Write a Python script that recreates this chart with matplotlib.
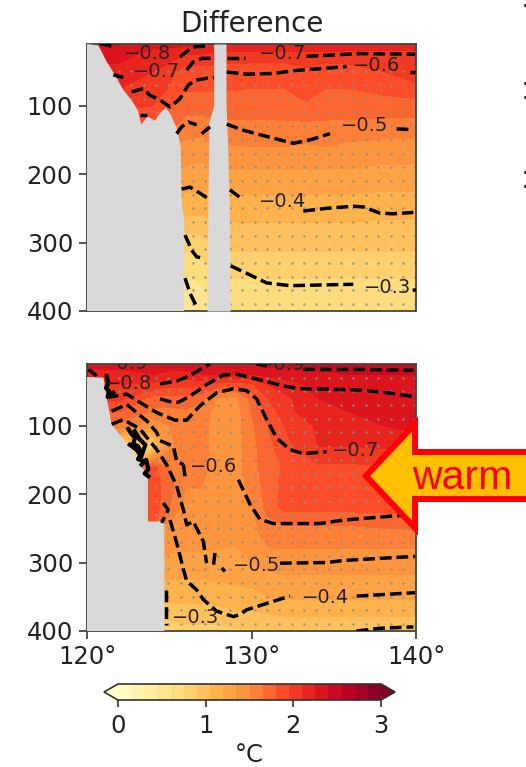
import numpy as np
import matplotlib
matplotlib.use("Agg")
import matplotlib.pyplot as plt
from matplotlib.patches import Polygon

# filled field, upper panel
top_lons = [120, 122, 124, 126, 127, 128, 130, 132, 133.3, 134.5, 136, 138, 140]
top_depths = [10, 25, 50, 75, 100, 130, 160, 200, 250, 300, 350, 400]
top_vals = [
    [2.45, 2.4, 2.3, 2.3, 2.25, 2.25, 2.25, 2.25, 2.25, 2.25, 2.2, 2.2, 2.2],
    [2.35, 2.3, 2.2, 2.1, 2.1, 2.05, 2.05, 2.05, 2.05, 2.05, 2.05, 2.05, 2.05],
    [2.2, 2.2, 2.1, 1.88, 1.88, 1.88, 1.85, 1.85, 1.92, 1.85, 1.88, 1.95, 2.0],
    [2.1, 2.1, 2.05, 1.82, 1.82, 1.82, 1.8, 1.8, 1.95, 1.8, 1.8, 1.85, 1.92],
    [2.0, 2.0, 1.95, 1.7, 1.7, 1.72, 1.72, 1.72, 1.75, 1.72, 1.72, 1.72, 1.72],
    [1.8, 1.8, 1.75, 1.6, 1.58, 1.62, 1.62, 1.62, 1.62, 1.62, 1.62, 1.6, 1.6],
    [1.5, 1.5, 1.45, 1.45, 1.42, 1.48, 1.5, 1.5, 1.48, 1.5, 1.46, 1.44, 1.44],
    [1.35, 1.35, 1.35, 1.3, 1.3, 1.32, 1.32, 1.32, 1.32, 1.32, 1.32, 1.3, 1.3],
    [1.15, 1.15, 1.15, 1.12, 1.1, 1.12, 1.12, 1.12, 1.12, 1.12, 1.12, 1.1, 1.1],
    [0.9, 0.9, 0.9, 0.8, 0.85, 0.95, 0.95, 0.95, 0.95, 0.95, 0.95, 0.95, 0.95],
    [0.65, 0.65, 0.65, 0.6, 0.62, 0.76, 0.76, 0.76, 0.76, 0.76, 0.76, 0.76, 0.76],
    [0.5, 0.5, 0.5, 0.45, 0.5, 0.6, 0.6, 0.6, 0.6, 0.6, 0.6, 0.6, 0.6],
]

# filled field, lower panel
bot_lons = [120, 122, 124, 125, 126, 127, 128, 129, 130, 131, 132, 134, 136, 138, 140]
bot_depths = [10, 25, 40, 60, 80, 100, 130, 160, 190, 220, 240, 260, 300, 350, 400]
bot_vals = [
    [2.3, 2.3, 2.35, 2.35, 2.35, 2.35, 2.4, 2.4, 2.4, 2.45, 2.45, 2.5, 2.5, 2.5, 2.5],
    [2.2, 2.2, 2.25, 2.2, 2.2, 2.25, 2.25, 2.25, 2.25, 2.3, 2.3, 2.35, 2.4, 2.4, 2.4],
    [2.1, 2.1, 2.05, 2.0, 2.0, 2.0, 1.88, 1.85, 1.92, 2.1, 2.2, 2.28, 2.32, 2.35, 2.35],
    [2.0, 2.0, 1.75, 1.75, 1.75, 1.68, 1.48, 1.45, 1.7, 1.95, 2.05, 2.25, 2.3, 2.35, 2.35],
    [1.8, 1.8, 1.6, 1.6, 1.62, 1.58, 1.42, 1.42, 1.65, 1.85, 2.05, 2.2, 2.25, 2.3, 2.35],
    [1.6, 1.6, 1.4, 1.5, 1.6, 1.55, 1.42, 1.42, 1.62, 1.8, 1.95, 2.12, 2.15, 2.25, 2.3],
    [1.0, 0.8, 0.8, 1.45, 1.6, 1.55, 1.42, 1.42, 1.6, 1.75, 1.9, 2.1, 2.1, 2.12, 2.15],
    [0.8, 0.8, 1.85, 1.65, 1.55, 1.55, 1.42, 1.42, 1.6, 1.72, 1.82, 1.92, 1.92, 1.95, 1.98],
    [1.9, 1.9, 1.9, 1.7, 1.5, 1.5, 1.42, 1.42, 1.55, 1.72, 1.85, 1.88, 1.88, 1.88, 1.88],
    [1.9, 1.9, 1.9, 1.65, 1.45, 1.45, 1.42, 1.42, 1.5, 1.7, 1.85, 1.85, 1.85, 1.85, 1.85],
    [1.9, 1.9, 1.88, 1.5, 1.45, 1.45, 1.42, 1.42, 1.45, 1.62, 1.68, 1.68, 1.68, 1.72, 1.75],
    [1.45, 1.45, 1.45, 1.45, 1.42, 1.42, 1.4, 1.38, 1.42, 1.58, 1.58, 1.58, 1.58, 1.58, 1.58],
    [1.35, 1.35, 1.35, 1.3, 1.3, 1.3, 1.3, 1.3, 1.35, 1.4, 1.42, 1.42, 1.42, 1.42, 1.42],
    [1.1, 1.1, 1.1, 1.1, 1.1, 1.1, 1.12, 1.15, 1.15, 1.2, 1.22, 1.22, 1.22, 1.22, 1.22],
    [0.85, 0.85, 0.85, 0.8, 0.85, 0.85, 0.85, 0.88, 0.88, 0.9, 0.92, 0.92, 0.92, 0.92, 0.92],
]

# land outlines (lon, depth)
top_land_lon = [120, 120.69, 121.2, 121.7, 122.2, 122.7, 123.1, 123.3, 123.67, 124.13, 124.44, 124.8, 125.15,
                125.45, 125.7, 125.75, 125.9, 125.9, 120]
top_land_depth = [10, 12, 36, 55, 77, 92, 107, 128, 116, 122, 111, 103, 116, 133, 160, 238, 267, 400, 400]
gap_depth = [10, 100, 125, 160, 250, 400]
gap_west = [127.7, 127.7, 127.4, 127.4, 127.35, 127.3]
gap_east = [128.45, 128.45, 128.5, 128.55, 128.65, 128.7]

bot_land_lon = [120, 121.0, 121.2, 121.5, 122.7, 123.7, 123.7, 124.7, 124.7, 120]
bot_land_depth = [29, 30, 60, 98, 135, 175, 240, 240, 400, 400]

# dashed contours of the upper panel (lon offset from 120, depth)
top_lines = [
    ([0.79, 1.6], [9, 14]),
    ([5.65, 6.16, 6.57, 7.27], [29, 19, 14, 13]),
    ([1.6, 2.21], [55, 59]),
    ([6.06, 6.46, 6.97, 7.72], [48, 36, 31, 31]),
    ([8.49, 9.6], [30, 30]),
    ([13.35, 16.6, 19.94], [28, 24, 25]),
    ([2.72, 3.42, 3.83, 4.44, 5.05, 5.65, 6.16, 6.57, 7.27, 7.72], [80, 75, 85, 92, 102, 90, 70, 63, 60, 59]),
    ([8.49, 9.71, 11.33, 12.54, 15.78], [51, 54, 53, 49, 43]),
    ([19.64, 19.94], [51, 51]),
    ([3.22, 3.67], [114, 114]),
    ([5.45, 5.75, 6.16, 6.67], [141, 131, 124, 128]),
    ([6.97, 7.48], [141, 131]),
    ([8.49, 9.5, 10.92, 12.54, 13.56, 14.77], [127, 136, 145, 155, 150, 141]),
    ([18.82, 19.74], [134, 135]),
    ([5.75, 6.26, 6.87, 7.38], [222, 219, 228, 236]),
    ([8.69, 9.4], [223, 236]),
    ([13.15, 14.57, 16.19, 16.8, 17.81, 18.62, 19.84], [254, 250, 247, 248, 257, 258, 256]),
    ([5.96, 6.36, 6.67, 7.11], [289, 311, 321, 323]),
    ([5.96, 6.26, 6.71], [352, 374, 396]),
    ([8.73, 9.71, 10.92, 12.34, 16.19], [334, 345, 359, 363, 361]),
    ([19.88, 19.92], [367, 372]),
]

# dashed contours of the lower panel
bot_lines = [
    ([0.08, 0.59], [18, 27]),
    ([4.44, 5.45, 6.26, 7.07, 7.48], [39, 35, 27, 15, 10]),
    ([10.31, 10.92], [10, 13]),
    ([13.15, 16.6, 19.84], [18, 18, 19]),
    ([4.44, 5.05, 5.55, 6.26, 7.27, 8.29, 9.1, 10.31, 12.14, 12.95, 16.6, 18.62, 19.94], [61, 65, 66, 57, 40, 26, 25, 32, 43, 46, 48, 53, 58]),
    ([1.2, 2.41, 3.22, 4.24, 5.35, 6.06, 6.87, 7.88, 8.9, 9.71, 10.31, 10.92, 11.53, 12.34, 13.15, 14.57],
     [59, 54, 66, 81, 92, 92, 71, 52, 46, 49, 61, 91, 118, 135, 141, 138]),
    ([1.5, 2.41, 3.63, 4.24, 4.44, 5.25, 5.45, 5.86], [79, 69, 93, 110, 122, 130, 152, 157]),
    ([5.86, 5.96], [157, 174]),
    ([9.2, 9.91, 10.52, 11.33, 14.16, 15.58, 18.62, 19.94], [179, 215, 237, 243, 243, 238, 232, 230]),
    ([1.5, 2.21, 3.22, 4.24, 4.84, 5.45, 5.86, 6.06, 6.46, 7.07, 7.27], [98, 91, 105, 135, 157, 188, 223, 245, 240, 269, 301]),
    ([7.78, 7.68], [286, 306]),
    ([8.19, 8.39], [308, 313]),
    ([11.73, 14.57, 15.58, 19.94], [301, 300, 297, 291]),
    ([4.64, 4.94, 4.54], [213, 223, 242]),
    ([5.05, 5.45, 5.86, 6.06, 6.67, 7.07, 7.88, 8.9, 9.3, 9.71, 12.34], [238, 271, 310, 327, 340, 354, 371, 379, 376, 369, 349]),
    ([16.39, 19.94], [349, 344]),
    ([4.8, 4.8], [340, 391]),
    ([16.39, 17.81, 19.84], [400, 396, 394]),
]

# thick knots of contour close to the coast, lower panel
bot_knots = [
    ([1.2, 1.3, 1.15, 1.35, 1.25, 1.6], [28, 38, 45, 50, 58, 52]),
    ([2.51, 2.7, 2.92, 2.8, 3.1, 3.32, 3.1, 3.5], [105, 112, 118, 127, 130, 140, 149, 152]),
    ([3.32, 3.6, 3.73, 3.5, 3.73], [157, 150, 164, 170, 174]),
    ([2.6, 3.0, 3.3, 3.55, 3.2, 2.9], [128, 135, 145, 128, 120, 108]),
]

top_labels = [("\u22120.8", 3.7, 24), ("\u22120.7", 4.2, 50), ("\u22120.7", 11.9, 24),
              ("\u22120.6", 17.6, 42), ("\u22120.5", 16.9, 129), ("\u22120.4", 11.9, 240),
              ("\u22120.3", 18.3, 366)]
bot_labels = [("\u22120.9", 2.3, 9), ("\u22120.8", 2.5, 38), ("\u22120.9", 11.8, 11),
              ("\u22120.7", 16.3, 136), ("\u22120.6", 7.7, 159), ("\u22120.5", 10.3, 304),
              ("\u22120.4", 14.5, 351), ("\u22120.3", 6.6, 380)]

stip_lons = np.arange(120.45, 140, 0.75)
stip_depths = np.arange(30, 400, 20)

cbar_ticks = [0, 1, 2, 3]
levels = np.arange(0, 3.01, 0.15)
GRAY = "#d9d9d9"
FS = 17.5

# clipped specks from the next panel on the slide
speck_x = [525, 525, 525, 525, 525]
speck_y = [5, 83, 97, 172, 186]

fig = plt.figure(figsize=(5.26, 7.67), dpi=100)
W, H = 526.0, 767.0


def px_axes(x0, y0, x1, y1):
    return fig.add_axes([x0 / W, 1 - y1 / H, (x1 - x0) / W, (y1 - y0) / H])


def draw_panel(ax, lons, depths, vals, lines, labels, min_stip):
    cf = ax.contourf(lons, depths, np.array(vals), levels=levels, cmap="YlOrRd", extend="both", zorder=1)
    xx, yy = np.meshgrid(stip_lons, stip_depths)
    keep = yy >= min_stip
    ax.scatter(xx[keep], yy[keep], s=3.6, color="#8f8f7f", alpha=0.8, linewidths=0, zorder=2)
    for xs, ys in lines:
        ax.plot([120 + x for x in xs], ys, color="black", lw=2.5, dashes=(3.4, 1.4),
                dash_capstyle="butt", zorder=4)
    for txt, x, y in labels:
        ax.text(120 + x, y, txt, fontsize=14, color="#2a2020", ha="center", va="center",
                zorder=5, clip_on=True)
    ax.set_xlim(120, 140)
    ax.set_ylim(400, 10)
    ax.set_yticks([100, 200, 300, 400])
    ax.tick_params(labelsize=FS, length=6, width=1.2, color="#333333", labelcolor="#222222", pad=4)
    for s in ax.spines.values():
        s.set_linewidth(1.3)
        s.set_color("#444444")
    return cf


ax1 = px_axes(87, 44, 416, 311)
cf = draw_panel(ax1, top_lons, top_depths, top_vals, top_lines, top_labels, 50)
ax1.fill(top_land_lon, top_land_depth, color=GRAY, lw=0, zorder=3)
ax1.fill_betweenx(gap_depth, gap_west, gap_east, color=GRAY, lw=0, zorder=3)
ax1.set_xticks([])
ax1.set_title("Difference", fontsize=20, color="#222222", pad=9)

ax2 = px_axes(87, 364, 416, 631)
draw_panel(ax2, bot_lons, bot_depths, bot_vals, bot_lines, bot_labels, 30)
ax2.fill(bot_land_lon, bot_land_depth, color=GRAY, lw=0, zorder=3)
for xs, ys in bot_knots:
    ax2.plot([120 + x for x in xs], ys, color="black", lw=3, zorder=4)
ax2.set_xticks([120, 130, 140])
ax2.set_xticklabels(["120\u00b0", "130\u00b0", "140\u00b0"])

cax = px_axes(104, 684, 395, 700)
cb = fig.colorbar(cf, cax=cax, orientation="horizontal", extendfrac=0.053)
cb.set_ticks(cbar_ticks)
cb.ax.tick_params(labelsize=FS, length=5, width=1.2, color="#333333", labelcolor="#222222", pad=5)
cb.outline.set_linewidth(1.2)
cb.outline.set_edgecolor("#333333")
cb.set_label("\u00b0C", fontsize=FS, color="#222222", labelpad=4)

# pasted arrow sits on top of everything
over = fig.add_axes([0, 0, 1, 1], facecolor="none")
over.set_xlim(0, W)
over.set_ylim(H, 0)
over.axis("off")
arrow_x = [366, 415, 415, 540, 540, 415, 415]
arrow_y = [476, 424, 452, 452, 499, 499, 528]
over.add_patch(Polygon(np.column_stack([arrow_x, arrow_y]), closed=True, facecolor="#ffc000",
                       edgecolor="#ff0000", lw=4.3, joinstyle="miter"))
over.text(462, 478, "warm", fontsize=29.5, family="Liberation Sans", color="#ff0000", ha="center", va="center")
over.scatter(speck_x, speck_y, s=5, color="#333333", linewidths=0)

fig.savefig("out.png", dpi=100)
